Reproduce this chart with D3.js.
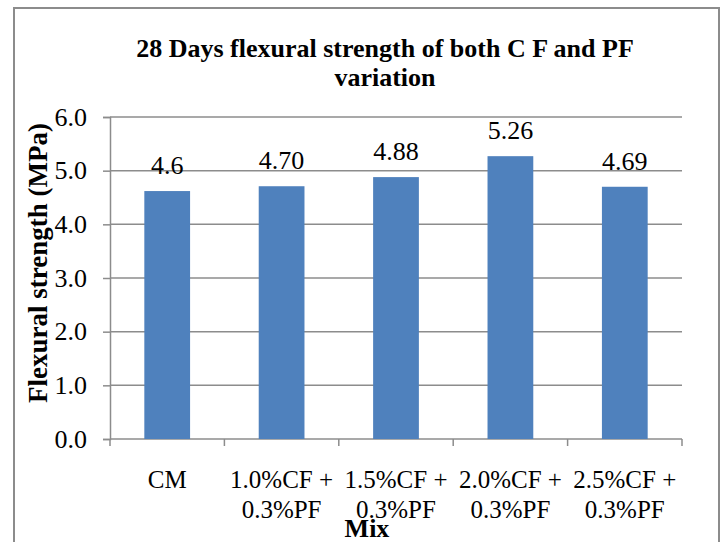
<!DOCTYPE html>
<html>
<head>
<meta charset="utf-8">
<script src="https://cdn.jsdelivr.net/npm/d3@7"></script>
<style>
  body { margin: 0; background: #fff; }
  text { font-family: "Liberation Serif", "Times New Roman", serif; fill: #000; }
</style>
</head>
<body>
<script>
var mixes = ["CM", "1.0%CF +|0.3%PF", "1.5%CF +|0.3%PF", "2.0%CF +|0.3%PF", "2.5%CF +|0.3%PF"];
var strength = [4.62, 4.71, 4.88, 5.27, 4.70];
var valueLabels = ["4.6", "4.70", "4.88", "5.26", "4.69"];
var yTicks = [0, 1, 2, 3, 4, 5, 6];

var W = 723, H = 542;
var margin = {top: 117, right: 41, bottom: 103, left: 110},
    width = W - margin.left - margin.right,
    height = H - margin.top - margin.bottom;

var svg = d3.select('body').append('svg')
  .attr('width', W)
  .attr('height', H);

// outer chart border (bottom runs off the picture)
svg.append('rect')
  .attr('x', 14).attr('y', 8)
  .attr('width', 705).attr('height', 560)
  .attr('fill', 'none')
  .attr('stroke', '#8c8c8c')
  .attr('stroke-width', 2);

var g = svg.append('g')
  .attr('transform', 'translate(' + margin.left + ',' + margin.top + ')');

var x = d3.scaleBand().domain(mixes).range([0, width]).padding(0);
var y = d3.scaleLinear().domain([0, 6]).range([height, 0]);

// gridlines
g.selectAll('.grid')
  .data(yTicks.slice(1))
  .enter().append('line')
  .attr('x1', 0).attr('x2', width)
  .attr('y1', function(d) { return y(d); })
  .attr('y2', function(d) { return y(d); })
  .attr('stroke', '#8c8c8c')
  .attr('stroke-width', 1.5);

// y axis
var yAxis = d3.axisLeft(y).tickValues(yTicks).tickSize(7).tickPadding(16)
  .tickFormat(d3.format('.1f'));
var ya = g.append('g').call(yAxis);
ya.select('.domain').attr('stroke', '#8c8c8c').attr('stroke-width', 1.5);
ya.selectAll('.tick line').attr('stroke', '#8c8c8c').attr('stroke-width', 1.5);
ya.selectAll('.tick text')
  .style('font-family', '"Liberation Serif", serif')
  .style('font-size', '26px').attr('fill', '#000');

// x axis baseline + boundary ticks
g.append('line')
  .attr('x1', 0).attr('x2', width)
  .attr('y1', height).attr('y2', height)
  .attr('stroke', '#8c8c8c').attr('stroke-width', 1.5);

g.selectAll('.xtick')
  .data(d3.range(mixes.length + 1))
  .enter().append('line')
  .attr('x1', function(i) { return i * x.step(); })
  .attr('x2', function(i) { return i * x.step(); })
  .attr('y1', height).attr('y2', height + 7)
  .attr('stroke', '#8c8c8c').attr('stroke-width', 1.5);

// bars
var barW = x.bandwidth() * 0.4;
g.selectAll('.bar')
  .data(strength)
  .enter().append('rect')
  .attr('x', function(d, i) { return x(mixes[i]) + x.bandwidth() / 2 - barW / 2; })
  .attr('y', function(d) { return y(d); })
  .attr('width', barW)
  .attr('height', function(d) { return height - y(d); })
  .attr('fill', '#4f81bd');

// value labels
g.selectAll('.val')
  .data(strength)
  .enter().append('text')
  .attr('x', function(d, i) { return x(mixes[i]) + x.bandwidth() / 2; })
  .attr('y', function(d) { return y(d) - 17; })
  .attr('text-anchor', 'middle')
  .style('font-size', '26px')
  .text(function(d, i) { return valueLabels[i]; });

// category labels
mixes.forEach(function(m, i) {
  var lines = m.split('|');
  var t = g.append('text')
    .attr('text-anchor', 'middle')
    .attr('x', x(m) + x.bandwidth() / 2)
    .attr('y', height + 49)
    .style('font-size', '25px');
  lines.forEach(function(l, j) {
    t.append('tspan')
      .attr('x', x(m) + x.bandwidth() / 2)
      .attr('dy', j === 0 ? 0 : 30)
      .text(l);
  });
});

// x axis title
svg.append('text')
  .attr('x', 367).attr('y', 537)
  .attr('text-anchor', 'middle')
  .style('font-size', '26px').style('font-weight', 'bold')
  .text('Mix');

// y axis title
svg.append('text')
  .attr('transform', 'translate(47,263) rotate(-90)')
  .attr('text-anchor', 'middle')
  .style('font-size', '27px').style('font-weight', 'bold')
  .text('Flexural strength (MPa)');

// chart title
svg.append('text')
  .attr('x', 385).attr('y', 57)
  .attr('text-anchor', 'middle')
  .style('font-size', '26px').style('font-weight', 'bold')
  .text('28 Days flexural strength of both C F and PF');
svg.append('text')
  .attr('x', 385).attr('y', 86)
  .attr('text-anchor', 'middle')
  .style('font-size', '26px').style('font-weight', 'bold')
  .text('variation');
</script>
</body>
</html>
